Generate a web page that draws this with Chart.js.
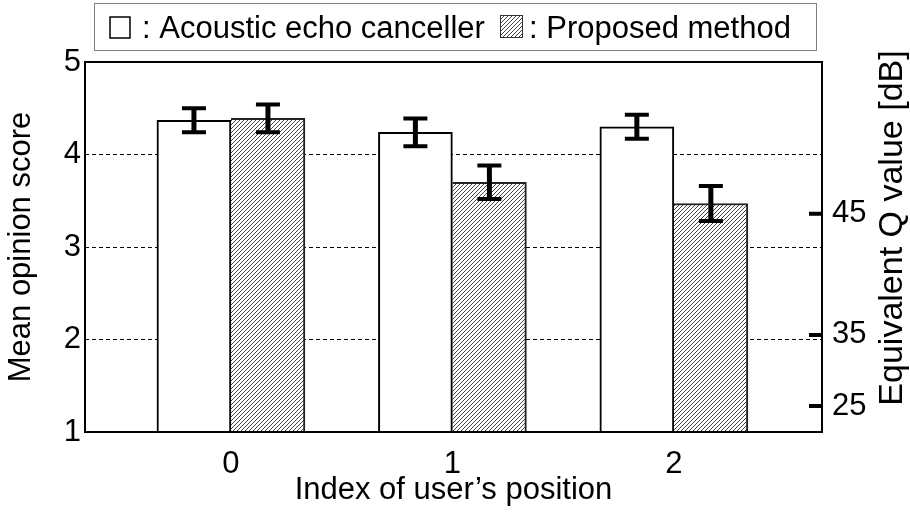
<!DOCTYPE html>
<html>
<head>
<meta charset="utf-8">
<script src="https://cdn.jsdelivr.net/npm/chart.js@4"></script>
<style>
  html, body { margin: 0; padding: 0; background: #fff; }
  #mosChart { display: block; }
</style>
</head>
<body>
<canvas id="mosChart" width="910" height="521"></canvas>
<script>
const positions = [0, 1, 2];
const aecMos = [4.37, 4.24, 4.30];
const aecErr = [0.13, 0.15, 0.13];
const proposedMos = [4.39, 3.70, 3.47];
const proposedErr = [0.15, 0.18, 0.19];
const mosTicks = [1, 2, 3, 4, 5];
// equivalent Q value ticks, placed at the MOS height they correspond to
const qTickMos = [1.28, 2.05, 3.36];
const qTickLabels = ['25', '35', '45'];

const FONT = "'Liberation Sans', Arial, Helvetica, sans-serif";
const canvas = document.getElementById('mosChart');
const ctx = canvas.getContext('2d');

function makeHatch(c) {
    const tile = document.createElement('canvas');
    tile.width = 4;
    tile.height = 4;
    const t = tile.getContext('2d');
    t.fillStyle = '#fff';
    t.fillRect(0, 0, 4, 4);
    t.strokeStyle = '#444';
    t.lineWidth = 1;
    t.beginPath();
    t.moveTo(-1, 5); t.lineTo(5, -1);
    t.moveTo(-1, 1); t.lineTo(1, -1);
    t.moveTo(3, 5); t.lineTo(5, 3);
    t.stroke();
    return c.createPattern(tile, 'repeat');
}
const hatch = makeHatch(ctx);

const toPoints = vals => positions.map((x, i) => ({ x, y: vals[i] }));

const errorBars = {
    id: 'errorBars',
    afterDatasetsDraw(chart) {
        const c = chart.ctx;
        const y = chart.scales.y;
        c.save();
        c.strokeStyle = '#000';
        chart.data.datasets.forEach((ds, d) => {
            chart.getDatasetMeta(d).data.forEach((bar, i) => {
                const v = ds.data[i].y;
                const hi = y.getPixelForValue(v + ds.errors[i]);
                const lo = y.getPixelForValue(v - ds.errors[i]);
                c.lineWidth = 5;
                c.beginPath();
                c.moveTo(bar.x, hi); c.lineTo(bar.x, lo);
                c.stroke();
                c.lineWidth = 4;
                c.beginPath();
                c.moveTo(bar.x - 12, hi); c.lineTo(bar.x + 12, hi);
                c.moveTo(bar.x - 12, lo); c.lineTo(bar.x + 12, lo);
                c.stroke();
            });
        });
        c.restore();
    }
};

const decorations = {
    id: 'decorations',
    afterDraw(chart) {
        const c = chart.ctx;
        const a = chart.chartArea;
        c.save();
        // plot frame
        c.strokeStyle = '#000';
        c.lineWidth = 2;
        c.strokeRect(a.left, a.top, a.right - a.left, a.bottom - a.top);

        // inward tick marks on the Q axis
        const q = chart.scales.y2;
        c.lineWidth = 4;
        c.beginPath();
        q.ticks.forEach(t => {
            const py = q.getPixelForValue(t.value);
            c.moveTo(a.right - 13, py);
            c.lineTo(a.right, py);
        });
        c.stroke();

        // right axis title, reading bottom to top
        c.fillStyle = '#000';
        c.font = '34px ' + FONT;
        c.textAlign = 'center';
        c.textBaseline = 'middle';
        c.translate(893, 228);
        c.rotate(-Math.PI / 2);
        c.fillText('Equivalent Q value [dB]', 0, 0);
        c.restore();

        // legend
        c.save();
        c.strokeStyle = '#808080';
        c.lineWidth = 1;
        c.strokeRect(94.5, 3.5, 722, 47);
        c.fillStyle = '#fff';
        c.fillRect(110, 17, 20, 21);
        c.strokeStyle = '#000';
        c.lineWidth = 1.5;
        c.strokeRect(110, 17, 20, 21);
        c.fillStyle = hatch;
        c.fillRect(500, 15, 22, 22);
        c.strokeStyle = '#333';
        c.lineWidth = 1;
        c.strokeRect(500.5, 15.5, 22, 22);
        c.fillStyle = '#000';
        c.font = '31px ' + FONT;
        c.textAlign = 'left';
        c.textBaseline = 'alphabetic';
        c.fillText(': Acoustic echo canceller', 142, 38);
        c.fillText(': Proposed method', 529, 38);
        c.restore();
    }
};

new Chart(ctx, {
    type: 'bar',
    data: {
        datasets: [
            {
                label: 'Acoustic echo canceller',
                data: toPoints(aecMos),
                errors: aecErr,
                backgroundColor: '#fff',
                borderColor: '#000',
                borderWidth: 2,
                barThickness: 74
            },
            {
                label: 'Proposed method',
                data: toPoints(proposedMos),
                errors: proposedErr,
                backgroundColor: hatch,
                borderColor: '#222',
                borderWidth: { top: 2, right: 2, left: 0, bottom: 0 },
                barThickness: 74
            }
        ]
    },
    options: {
        responsive: false,
        animation: false,
        events: [],
        layout: { padding: { top: 62, left: 0, right: 0, bottom: 0 } },
        plugins: {
            legend: { display: false },
            tooltip: { enabled: false }
        },
        scales: {
            x: {
                type: 'linear',
                offset: false,
                min: -0.659,
                max: 2.669,
                afterBuildTicks: s => { s.ticks = positions.map(v => ({ value: v })); },
                afterFit: s => { s.height = 89; },
                grid: { display: false, offset: false },
                border: { display: false },
                ticks: { color: '#000', font: { family: FONT, size: 31 }, padding: 6 },
                title: {
                    display: true,
                    text: 'Index of user’s position',
                    color: '#000',
                    font: { family: FONT, size: 31 },
                    padding: { top: 0, bottom: 12 }
                }
            },
            y: {
                min: 1,
                max: 5,
                afterBuildTicks: s => { s.ticks = mosTicks.map(v => ({ value: v })); },
                afterFit: s => { s.width = 85; },
                grid: { color: '#000', lineWidth: 1, drawTicks: false },
                border: { display: false, dash: [4, 3] },
                ticks: { color: '#000', font: { family: FONT, size: 31 }, padding: 4 },
                title: {
                    display: true,
                    text: 'Mean opinion score',
                    color: '#000',
                    font: { family: FONT, size: 31 },
                    padding: { top: 3, bottom: 0 }
                }
            },
            y2: {
                position: 'right',
                min: 1,
                max: 5,
                afterBuildTicks: s => { s.ticks = qTickMos.map(v => ({ value: v })); },
                afterFit: s => { s.width = 88; },
                grid: { drawOnChartArea: false, drawTicks: false },
                border: { display: false },
                ticks: {
                    color: '#000',
                    font: { family: FONT, size: 31 },
                    padding: 10,
                    callback: (v, i) => qTickLabels[i]
                }
            }
        }
    },
    plugins: [errorBars, decorations]
});
</script>
</body>
</html>
